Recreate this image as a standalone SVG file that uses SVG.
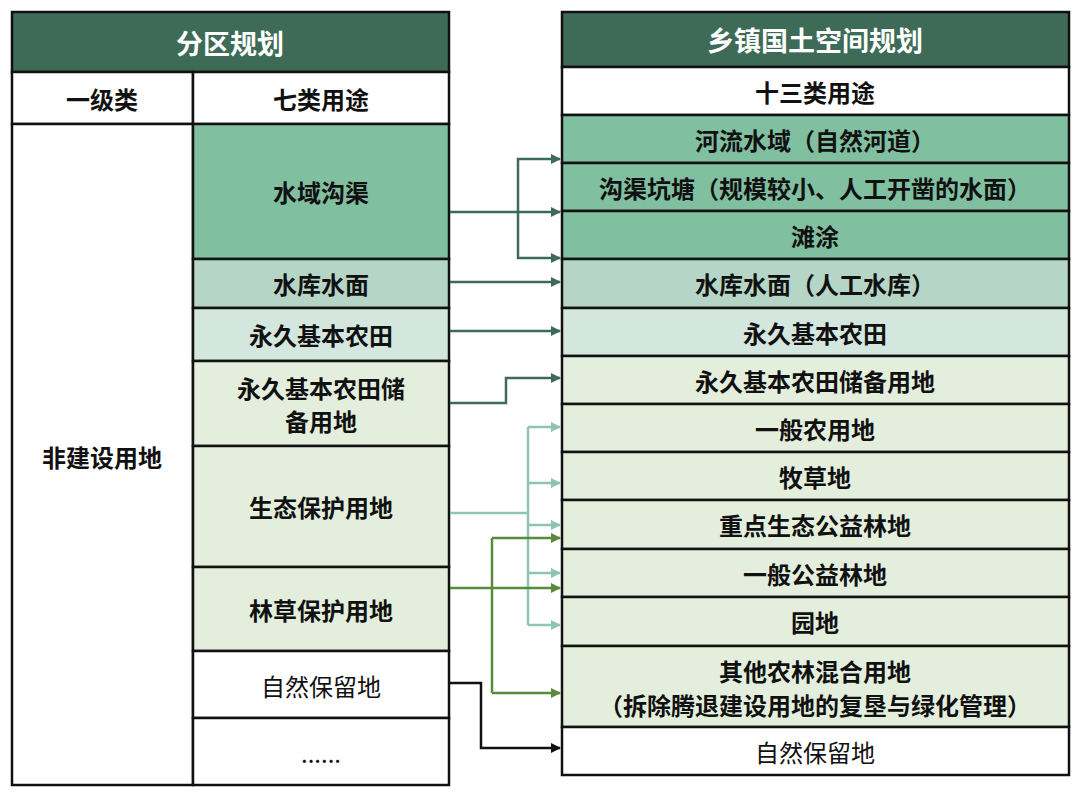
<svg xmlns="http://www.w3.org/2000/svg" width="1080" height="792" viewBox="0 0 1080 792">
<style>
rect{stroke:#111;stroke-width:2.5}
text{font-family:"Noto Sans CJK SC","Noto Sans",sans-serif;font-size:24px;font-weight:bold;text-anchor:middle;dominant-baseline:central;fill:#111}
.t{fill:#fff;font-size:27px}
.n{font-weight:normal}
.h{fill:#3d6b57}.a{fill:#80bfa0}.b{fill:#b5d6c6}.c{fill:#d3e7de}.d{fill:#e3efdc}.w{fill:#fff}
.l{fill:none;stroke-width:2.5}
</style>
<defs>
<marker id="m1" viewBox="0 0 10 10" refX="9" refY="5" markerWidth="4" markerHeight="4" orient="auto"><path d="M0,0L10,5L0,10z" fill="#3d6b57"/></marker>
<marker id="m2" viewBox="0 0 10 10" refX="9" refY="5" markerWidth="4" markerHeight="4" orient="auto"><path d="M0,0L10,5L0,10z" fill="#8fc4b0"/></marker>
<marker id="m3" viewBox="0 0 10 10" refX="9" refY="5" markerWidth="4" markerHeight="4" orient="auto"><path d="M0,0L10,5L0,10z" fill="#5a8a3c"/></marker>
<marker id="m4" viewBox="0 0 10 10" refX="9" refY="5" markerWidth="4" markerHeight="4" orient="auto"><path d="M0,0L10,5L0,10z" fill="#111"/></marker>
</defs>
<g id="left">
<rect class="h" x="12" y="12" width="437" height="60"/><text class="t" x="230" y="42">分区规划</text>
<rect class="w" x="12" y="72" width="181" height="52"/><text x="102" y="98">一级类</text>
<rect class="w" x="193" y="72" width="256" height="52"/><text x="321" y="98">七类用途</text>
<rect class="w" x="12" y="124" width="181" height="661"/><text x="102" y="456">非建设用地</text>
<rect class="a" x="193" y="124" width="256" height="135"/><text x="321" y="191">水域沟渠</text>
<rect class="b" x="193" y="259" width="256" height="49"/><text x="321" y="283">水库水面</text>
<rect class="c" x="193" y="308" width="256" height="53"/><text x="321" y="334">永久基本农田</text>
<rect class="d" x="193" y="361" width="256" height="85"/><text x="321" y="387">永久基本农田储</text><text x="321" y="420">备用地</text>
<rect class="d" x="193" y="446" width="256" height="121"/><text x="321" y="506">生态保护用地</text>
<rect class="d" x="193" y="567" width="256" height="84"/><text x="321" y="609">林草保护用地</text>
<rect class="w" x="193" y="651" width="256" height="67"/><text class="n" x="321" y="685">自然保留地</text>
<rect class="w" x="193" y="718" width="256" height="67"/><text class="n" x="321" y="752">......</text>
</g>
<g id="right">
<rect class="h" x="562" y="12" width="507" height="55"/><text class="t" x="815" y="39">乡镇国土空间规划</text>
<rect class="w" x="562" y="67" width="507" height="48"/><text x="815" y="91">十三类用途</text>
<rect class="a" x="562" y="115" width="507" height="48"/><text x="815" y="139">河流水域（自然河道）</text>
<rect class="a" x="562" y="163" width="507" height="48"/><text x="815" y="187">沟渠坑塘（规模较小、人工开凿的水面）</text>
<rect class="a" x="562" y="211" width="507" height="48"/><text x="815" y="235">滩涂</text>
<rect class="b" x="562" y="259" width="507" height="49"/><text x="815" y="283">水库水面（人工水库）</text>
<rect class="c" x="562" y="308" width="507" height="48"/><text x="815" y="332">永久基本农田</text>
<rect class="d" x="562" y="356" width="507" height="48"/><text x="815" y="380">永久基本农田储备用地</text>
<rect class="d" x="562" y="404" width="507" height="48"/><text x="815" y="428">一般农用地</text>
<rect class="d" x="562" y="452" width="507" height="48"/><text x="815" y="476">牧草地</text>
<rect class="d" x="562" y="500" width="507" height="49"/><text x="815" y="524">重点生态公益林地</text>
<rect class="d" x="562" y="549" width="507" height="48"/><text x="815" y="573">一般公益林地</text>
<rect class="d" x="562" y="597" width="507" height="49"/><text x="815" y="621">园地</text>
<rect class="d" x="562" y="646" width="507" height="81"/><text x="815" y="670">其他农林混合用地</text><text x="815" y="704">（拆除腾退建设用地的复垦与绿化管理）</text>
<rect class="w" x="562" y="727" width="507" height="48"/><text class="n" x="815" y="751">自然保留地</text>
</g>
<g id="connectors">
<g stroke="#3d6b57" class="l" fill="none" stroke-width="2.5">
<path class="l" stroke="#3d6b57" d="M450,212H560" marker-end="url(#m1)"/>
<path class="l" stroke="#3d6b57" d="M518,212V159H560" marker-end="url(#m1)"/>
<path class="l" stroke="#3d6b57" d="M518,212V258H560" marker-end="url(#m1)"/>
<path class="l" stroke="#3d6b57" d="M450,282H560" marker-end="url(#m1)"/>
<path class="l" stroke="#3d6b57" d="M450,331H560" marker-end="url(#m1)"/>
<path class="l" stroke="#3d6b57" d="M450,403H506V378H560" marker-end="url(#m1)"/>
</g>
<path class="l" stroke="#8fc4b0" d="M450,513H528"/>
<path class="l" stroke="#8fc4b0" d="M528,427V625"/>
<path class="l" stroke="#8fc4b0" d="M528,427H560" marker-end="url(#m2)"/>
<path class="l" stroke="#8fc4b0" d="M528,483H560" marker-end="url(#m2)"/>
<path class="l" stroke="#8fc4b0" d="M528,525H560" marker-end="url(#m2)"/>
<path class="l" stroke="#8fc4b0" d="M528,573H560" marker-end="url(#m2)"/>
<path class="l" stroke="#8fc4b0" d="M528,625H560" marker-end="url(#m2)"/>
<path class="l" stroke="#5a8a3c" d="M450,588H560" marker-end="url(#m3)"/>
<path class="l" stroke="#5a8a3c" d="M492,538V693"/>
<path class="l" stroke="#5a8a3c" d="M492,538H560" marker-end="url(#m3)"/>
<path class="l" stroke="#5a8a3c" d="M492,693H560" marker-end="url(#m3)"/>
<path class="l" stroke="#111" d="M450,683H481V748H560" marker-end="url(#m4)"/>
</g>
</svg>
